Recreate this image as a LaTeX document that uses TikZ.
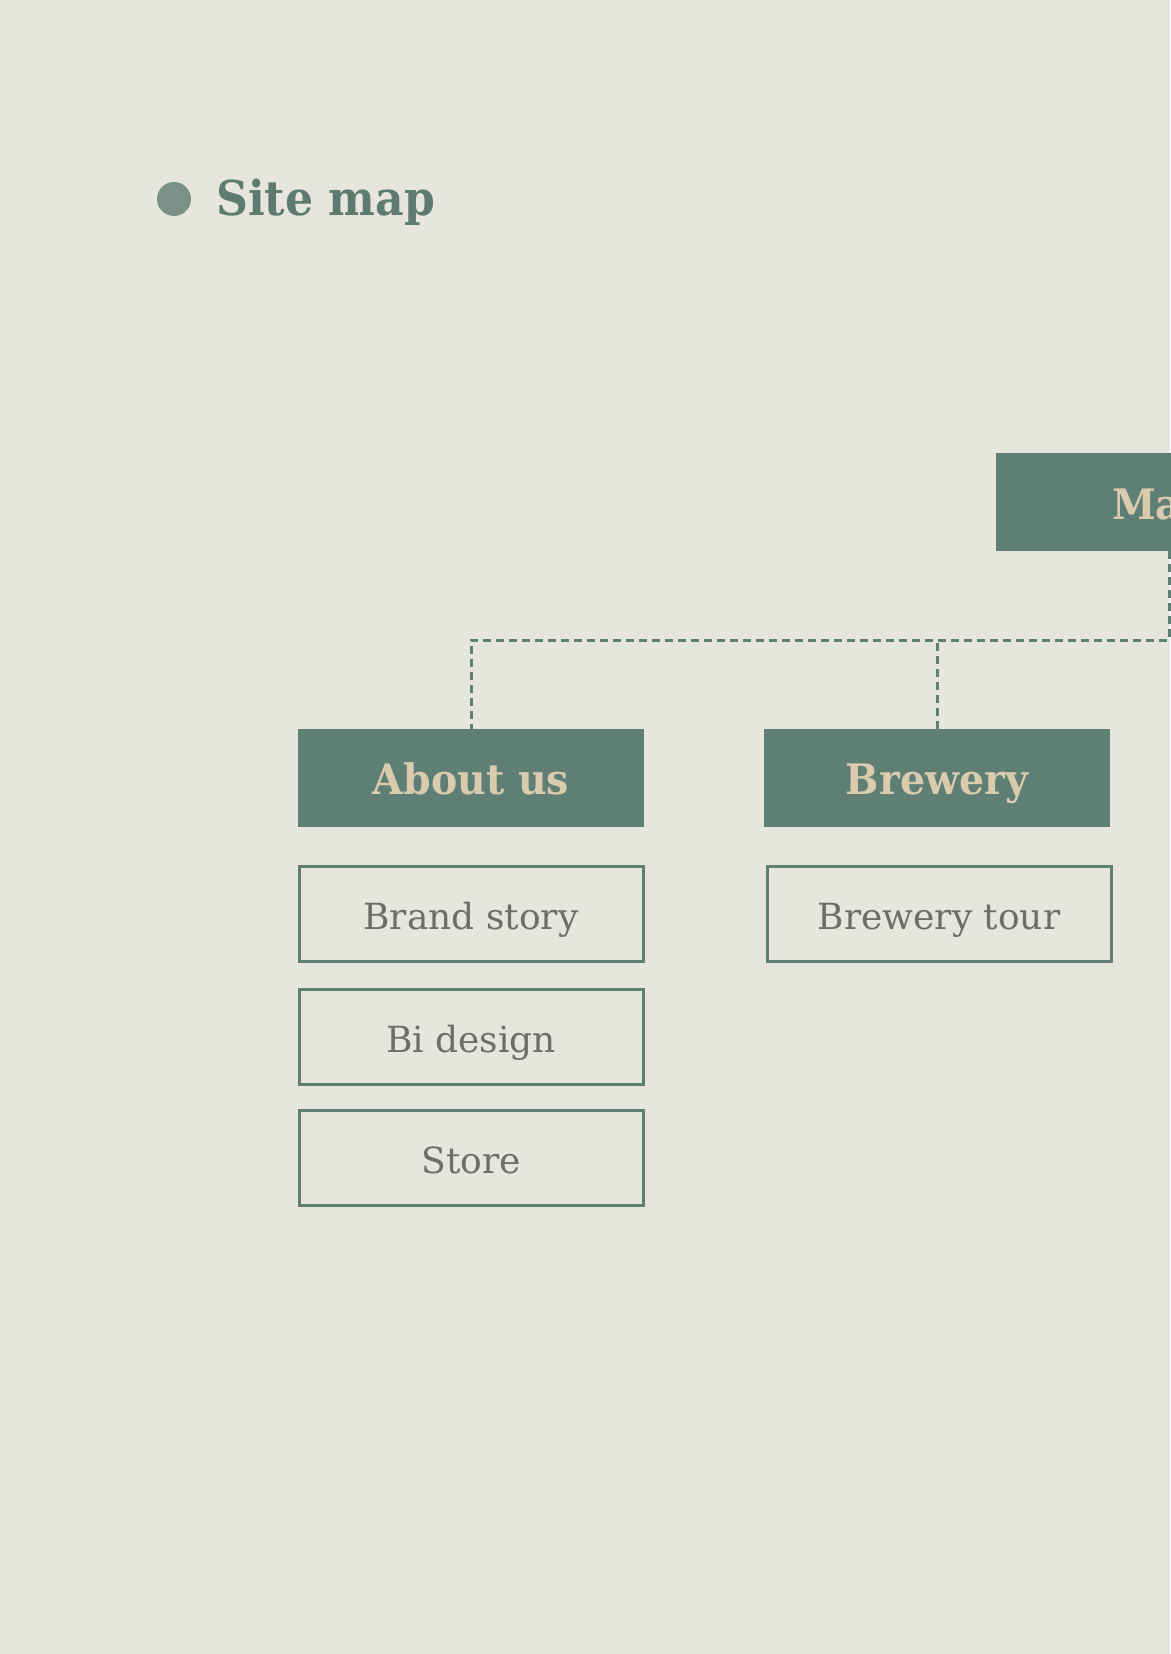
\documentclass[tikz,border=0pt]{standalone}
\usepackage{fontspec}
\setmainfont{DejaVu Serif}
\newfontfamily\titlefont[FakeStretch=0.92]{DejaVu Serif}
\newfontfamily\headfont[FakeStretch=0.94]{DejaVu Serif}
\definecolor{bg}{HTML}{E6E5DE}
\definecolor{teal}{HTML}{5F7E74}
\definecolor{dotc}{HTML}{7B9187}
\definecolor{titlec}{HTML}{5E7B72}
\definecolor{beige}{HTML}{D8CBAE}
\definecolor{greytxt}{HTML}{6E6E68}
\begin{document}
\begin{tikzpicture}[x=1pt,y=-1pt,
  headbox/.style={fill=teal, draw=none, minimum width=346pt, minimum height=98pt, inner sep=0pt,
    text height=32pt, text depth=0pt,
    text=beige, font=\headfont\bfseries\fontsize{42}{42}\selectfont},
  subbox/.style={draw=teal, line width=3pt, minimum width=344pt, minimum height=95pt, inner sep=0pt,
    text height=30pt, text depth=0pt,
    text=greytxt, font=\fontsize{36}{36}\selectfont},
  link/.style={draw=teal, line width=3pt, dash pattern=on 8pt off 5pt}]
\fill[bg] (0,0) rectangle (1170,1654);
\useasboundingbox (0,0) rectangle (1170,1654);
% title
\node[circle, fill=dotc, minimum size=34pt, inner sep=0pt] (dot) at (174,199) {};
\node[anchor=base west, inner sep=0pt, text=titlec, font=\titlefont\bfseries\fontsize{48}{48}\selectfont] (title) at (216,215) {Site map};
% main box (cut by the page edge)
\node[fill=teal, minimum width=346pt, minimum height=98pt, inner sep=0pt, anchor=west] (main) at (996,502) {};
\node[anchor=base west, inner sep=0pt, text=beige, font=\headfont\bfseries\fontsize{42}{42}\selectfont] (maintxt) at (1112,519) {Ma};
% section heads
\node[headbox] (about) at (471,778) {About us};
\node[headbox] (brewery) at (937,778) {Brewery};
% sub pages
\node[subbox] (brand) at (471,914) {Brand story};
\node[subbox] (bi) at (471,1037) {Bi design};
\node[subbox] (store) at (471,1158) {Store};
\node[subbox] (tour) at (939,914) {Brewery tour};
% connectors
\coordinate (busL) at (471,640);
\draw[link] (main.south) |- (busL) -- (about.north);
\draw[link] (brewery.north) -- (brewery.north |- busL);
\end{tikzpicture}
\end{document}
